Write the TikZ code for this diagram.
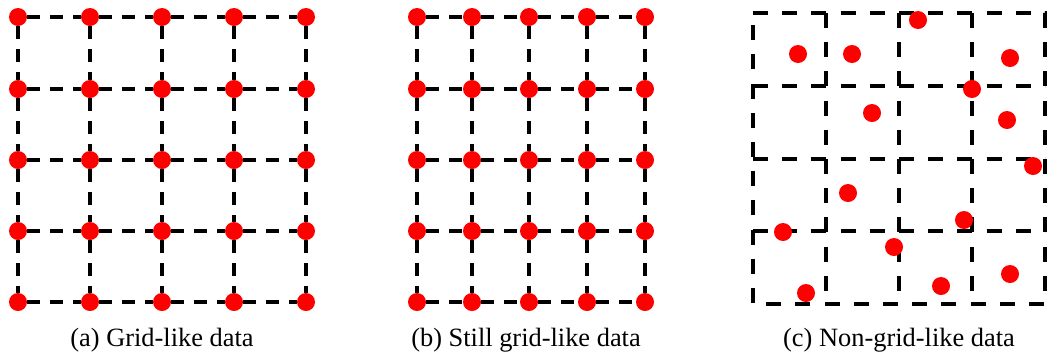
\documentclass[tikz,border=0pt]{standalone}
\usepackage{fontspec}
\setmainfont{Liberation Serif}

\begin{document}
\begin{tikzpicture}[
    x=0.5pt, y=-0.5pt,
    dato/.style={circle, fill=red, inner sep=0pt, minimum size=9pt},
    griglia/.style={line width=1.75pt, dash pattern=on 6.5pt off 5pt},
    cella/.style={line width=2pt, dash pattern=on 7.5pt off 7.1pt},
    didascalia/.style={font=\rmfamily\fontsize{13.2}{16}\selectfont}]
    \useasboundingbox (0,0) rectangle (1051,360);

    % (a) dati su griglia
    \foreach \i/\x in {1/18,2/90,3/162,4/234,5/306}
      \foreach \j/\y in {1/17,2/89,3/160,4/231,5/302}
        \node[dato] (a\i\j) at (\x,\y) {};
    \foreach \i in {1,...,5}
      \foreach \j [count=\k from 2] in {1,...,4} {
        \draw[griglia] (a\i\j) -- (a\i\k);
        \draw[griglia] (a\j\i) -- (a\k\i);
      }

    % (b) ancora su griglia (passo diverso)
    \foreach \i/\x in {1/417,2/472,3/529,4/587,5/645}
      \foreach \j/\y in {1/17,2/89,3/160,4/231,5/302}
        \node[dato] (b\i\j) at (\x,\y) {};
    \foreach \i in {1,...,5}
      \foreach \j [count=\k from 2] in {1,...,4} {
        \draw[griglia] (b\i\j) -- (b\i\k);
        \draw[griglia] (b\j\i) -- (b\k\i);
      }

    % (c) celle tratteggiate e punti sparsi
    \draw[cella] (753,13) -- (1045,13) -- (1045,304) -- (753,304) -- cycle;
    \foreach \k in {1,2,3} {
      \draw[cella] (753,13+72.75*\k) -- (1045,13+72.75*\k);
      \draw[cella] (753+73*\k,13) -- (753+73*\k,304);
    }
    \foreach \n/\x/\y in {1/798/54, 2/852/54, 3/918/20, 4/1010/58, 5/972/89,
        6/872/113, 7/1007/120, 8/1033/166, 9/848/193, 10/964/220,
        11/783/232, 12/894/247, 13/1010/274, 14/941/286, 15/806/293}
      \node[dato] (c\n) at (\x,\y) {};

    % didascalie
    \node[didascalia] (capA) at (162,340) {(a) Grid-like data};
    \node[didascalia] (capB) at (526,340) {(b) Still grid-like data};
    \node[didascalia] (capC) at (899,340) {(c) Non-grid-like data};
\end{tikzpicture}
\end{document}
